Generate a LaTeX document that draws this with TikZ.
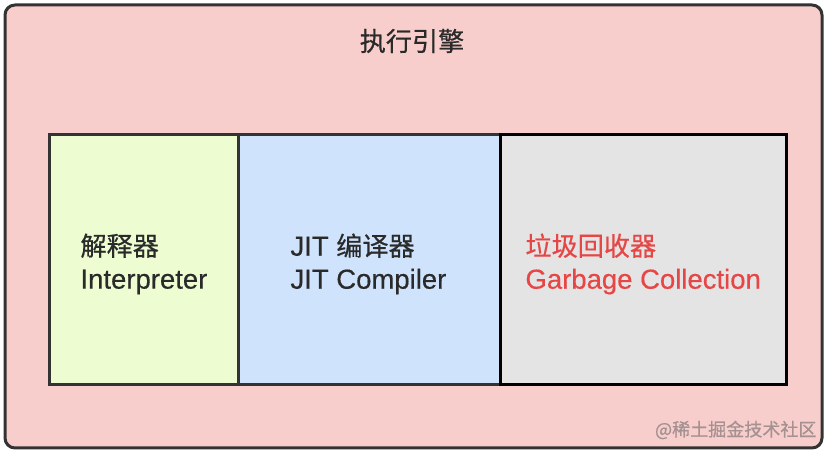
\documentclass[tikz,border=0pt]{standalone}
\usepackage{fontspec}
\setmainfont{Liberation Sans}[FakeBold=0.4]
\newfontfamily\cjk{Noto Sans CJK SC}[Scale=0.95, FakeBold=0.6]
\usetikzlibrary{positioning}

\definecolor{enginepink}{HTML}{F8CECC}
\definecolor{interpgreen}{HTML}{EDFCD1}
\definecolor{jitblue}{HTML}{CFE4FC}
\definecolor{gcgray}{HTML}{E4E4E4}
\definecolor{darkline}{HTML}{333333}
\definecolor{darktext}{HTML}{2A2A2A}
\definecolor{gcred}{HTML}{E64646}
\definecolor{markgray}{RGB}{165,145,145}

\begin{document}
\begin{tikzpicture}[x=1pt, y=-1pt, line width=3pt,
    part/.style = {draw=darkline, minimum height=250pt, inner sep=0pt},
    label/.style = {anchor=west, align=left, inner sep=0pt, text=darktext,
                    font=\fontsize{27.5}{33}\selectfont}]
    \useasboundingbox (0,0) rectangle (828,454);
    \node[draw=darkline, fill=enginepink, rounded corners=10pt, minimum width=817pt,
          minimum height=443pt, inner sep=0pt] (engine) at (413.5,226.5) {};
    \node[text=darktext, font=\cjk\fontsize{27.5}{33}\selectfont] (title) at (412,41) {执行引擎};
    \node[part, fill=interpgreen, minimum width=189pt] (interp) at (143.5,260) {};
    \node[part, fill=jitblue, minimum width=262pt] (jit) at (369,260) {};
    \node[part, draw=black, fill=gcgray, minimum width=286pt] (gc) at (643,260) {};
    \node[label] (interptext) at (79,264) {{\cjk 解释器}\\Interpreter};
    \node[label] (jittext) at (289,264) {JIT {\cjk 编译器}\\JIT Compiler};
    \node[label, text=gcred] (gctext) at (524,264) {{\cjk 垃圾回收器}\\Garbage Collection};
    \node[anchor=east, inner sep=0pt, text=markgray, font=\cjk\fontsize{19}{20}\selectfont]
        (mark) at (818,430) {@稀土掘金技术社区};
\end{tikzpicture}
\end{document}
